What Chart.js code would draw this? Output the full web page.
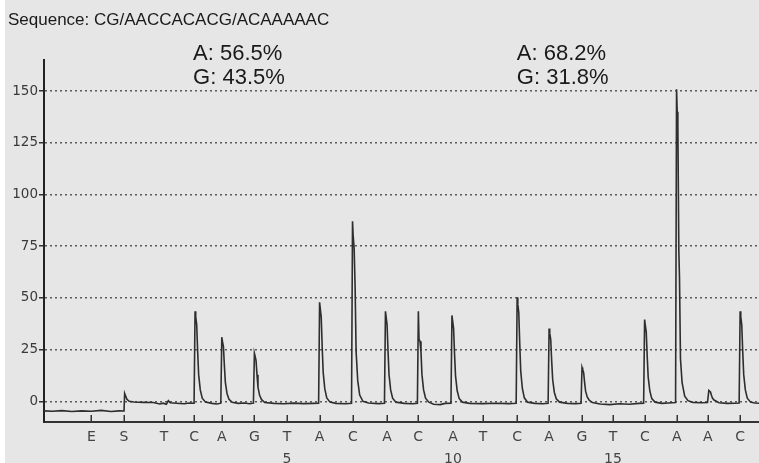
<!DOCTYPE html>
<html>
<head>
<meta charset="utf-8">
<script src="https://cdn.jsdelivr.net/npm/chart.js@4.4.1/dist/chart.umd.min.js"></script>
<style>
  html, body { margin: 0; padding: 0; background: #ffffff; }
  #wrap { position: absolute; left: 5px; top: 0; width: 754px; height: 463px; background: #e6e6e6; }
  canvas { display: block; }
</style>
</head>
<body>
<div id="wrap"><canvas id="c" width="754" height="463"></canvas></div>
<script>
// ---- data ----
const sequenceTitle = "Sequence: CG/AACCACACG/ACAAAAAC";
const tickPositions = [-1.0, 0.0, 1.23, 2.15, 3.0, 4.0, 5.0, 6.0, 7.02, 8.07, 9.02, 10.09, 11.01, 12.06, 13.04, 14.05, 15.0, 15.98, 16.96, 17.91, 18.9];
const tickLetters   = ["E", "S", "T", "C", "A", "G", "T", "A", "C", "A", "C", "A", "T", "C", "A", "G", "T", "C", "A", "A", "C"];
const tickNumbers   = ["", "", "", "", "", "", "5", "", "", "", "", "10", "", "", "", "", "15", "", "", "", ""];
const yTicks = [0, 25, 50, 75, 100, 125, 150];
const annotationX = [2.12, 12.05];
const annotationLines = [["A: 56.5%", "G: 43.5%"], ["A: 68.2%", "G: 31.8%"]];
const trace = [
  [-2.454,-4.6],[-2.2,-4.8],[-1.9,-4.5],[-1.6,-4.9],[-1.3,-4.6],[-1.0,-4.8],[-0.7,-4.4],[-0.4,-4.9],[-0.15,-4.6],[0.0,-4.7],
  [0.02,3.8],[0.05,2.6],[0.09,1.0],[0.16,0.0],[0.3,-0.3],[0.6,-0.5],[0.9,-0.6],[1.1,-1.3],[1.2,-0.9],[1.3,-1.4],[1.36,0.3],[1.42,-0.7],[1.6,-0.9],[1.85,-1.2],[2.0,-0.8],[2.15,-0.9],
  [2.18,43.5],[2.2,41.0],[2.23,37.0],[2.26,23.9],[2.29,12.9],[2.34,5.5],[2.4,1.5],[2.5,-0.4],[2.7,-1.0],[2.85,-1.3],[2.97,-0.9],
  [3.0,31.0],[3.02,29.0],[3.05,26.4],[3.08,17.1],[3.11,9.0],[3.16,3.8],[3.22,1.0],[3.32,-0.5],[3.5,-1.0],[3.7,-0.8],[3.85,-1.2],[3.97,-0.9],
  [4.0,23.3],[4.02,22.0],[4.05,19.8],[4.08,12.8],[4.11,6.8],[4.16,2.9],[4.22,0.8],[4.32,-0.6],[4.6,-1.0],[4.9,-1.2],[5.2,-0.9],[5.5,-1.1],[5.8,-1.0],[5.97,-0.9],
  [6.0,47.9],[6.02,45.0],[6.05,40.7],[6.08,26.3],[6.11,14.0],[6.16,6.0],[6.22,1.6],[6.32,-0.4],[6.5,-1.0],[6.8,-1.2],[6.98,-0.9],
  [7.01,87.0],[7.03,80.0],[7.06,74.0],[7.09,55.0],[7.12,24.0],[7.17,10.0],[7.23,3.0],[7.33,0.0],[7.5,-0.8],[7.8,-1.1],[7.99,-0.9],
  [8.02,43.5],[8.04,41.0],[8.07,37.0],[8.1,23.9],[8.13,12.9],[8.18,5.5],[8.24,1.5],[8.34,-0.4],[8.6,-1.0],[8.85,-1.2],[9.0,-0.9],
  [9.03,43.5],[9.05,30.0],[9.08,29.0],[9.11,23.9],[9.14,12.9],[9.19,5.5],[9.25,1.5],[9.35,-0.4],[9.5,-1.4],[9.7,-1.6],[9.85,-1.0],[10.03,-0.9],
  [10.06,41.5],[10.08,39.0],[10.11,35.3],[10.14,22.8],[10.17,12.3],[10.22,5.2],[10.28,1.4],[10.38,-0.4],[10.6,-1.0],[11.0,-1.1],[11.4,-0.9],[11.8,-1.1],[12.03,-0.9],
  [12.06,50.3],[12.08,47.0],[12.11,42.8],[12.14,27.7],[12.17,14.6],[12.22,6.2],[12.28,1.7],[12.38,-0.4],[12.6,-1.0],[12.85,-1.2],[13.01,-0.9],
  [13.04,35.2],[13.06,33.0],[13.09,29.9],[13.12,19.4],[13.15,10.4],[13.2,4.4],[13.26,1.2],[13.36,-0.4],[13.6,-1.0],[13.85,-1.1],[14.02,-0.9],
  [14.05,16.4],[14.07,15.4],[14.1,13.9],[14.13,9.0],[14.16,4.9],[14.21,2.1],[14.27,0.5],[14.37,-0.6],[14.6,-1.3],[14.9,-1.6],[15.2,-1.2],[15.5,-1.4],[15.8,-1.0],[15.94,-0.9],
  [15.97,39.5],[15.99,37.0],[16.02,33.6],[16.05,21.7],[16.08,11.7],[16.13,5.0],[16.19,1.3],[16.29,-0.4],[16.5,-1.0],[16.7,-0.8],[16.92,-0.6],
  [16.95,150.8],[16.97,140.0],[16.99,133.0],[17.02,72.5],[17.04,60.0],[17.07,20.6],[17.12,9.0],[17.2,2.5],[17.3,0.3],[17.45,-0.5],[17.7,-0.7],[17.9,-0.6],
  [17.94,5.3],[17.96,5.0],[17.99,4.5],[18.02,2.9],[18.05,1.6],[18.1,0.6],[18.25,-0.7],[18.5,-1.0],[18.75,-0.9],[18.87,-0.8],
  [18.9,43.5],[18.92,41.0],[18.95,37.0],[18.98,23.9],[19.01,12.9],[19.06,5.5],[19.12,1.5],[19.22,-0.4],[19.35,-0.8],[19.479,-0.9]
];
const xRange = [-2.454, 19.479];
const yRange = [-10, 165];

// ---- chart ----
const textPlugin = {
  id: 'texts',
  afterDraw(chart) {
    const ctx = chart.ctx;
    const xs = chart.scales.x;
    const area = chart.chartArea;
    ctx.save();
    // upward tick marks on x axis
    ctx.strokeStyle = '#333333';
    ctx.lineWidth = 1.5;
    xs.ticks.forEach(t => {
      const px = Math.round(xs.getPixelForValue(t.value)) + 0.25;
      ctx.beginPath();
      ctx.moveTo(px, area.bottom);
      ctx.lineTo(px, area.bottom - 7);
      ctx.stroke();
    });
    // title
    ctx.fillStyle = '#1a1a1a';
    ctx.textBaseline = 'middle';
    ctx.textAlign = 'left';
    ctx.font = '17px "Liberation Sans", Arial, sans-serif';
    ctx.fillText(sequenceTitle, 3, 20);
    // annotations
    ctx.font = '22px "Liberation Sans", Arial, sans-serif';
    annotationX.forEach((xv, i) => {
      const px = xs.getPixelForValue(xv);
      annotationLines[i].forEach((line, j) => {
        ctx.fillText(line, px, area.top - 6 + j * 24);
      });
    });
    ctx.restore();
  }
};

new Chart(document.getElementById('c'), {
  type: 'line',
  data: {
    datasets: [{
      data: trace.map(p => ({ x: p[0], y: p[1] })),
      borderColor: '#2e2e2e',
      borderWidth: 1.6,
      pointRadius: 0,
      tension: 0,
      fill: false
    }]
  },
  options: {
    responsive: false,
    animation: false,
    devicePixelRatio: 1,
    layout: { padding: { top: 60, right: 0, left: 0, bottom: 0 } },
    plugins: { legend: { display: false }, tooltip: { enabled: false }, title: { display: false } },
    scales: {
      x: {
        type: 'linear',
        min: xRange[0], max: xRange[1],
        afterBuildTicks: s => { s.ticks = tickPositions.map(v => ({ value: v })); },
        afterFit: s => { s.height = 41; },
        grid: { display: false, drawTicks: false },
        border: { display: true, color: '#333333', width: 2 },
        ticks: {
          autoSkip: false, maxRotation: 0, padding: 5,
          color: '#444444',
          font: { family: '"DejaVu Sans", Verdana, sans-serif', size: 14, lineHeight: 1.55 },
          callback: (v, i) => [tickLetters[i], tickNumbers[i]]
        }
      },
      y: {
        type: 'linear',
        min: yRange[0], max: yRange[1],
        afterBuildTicks: s => { s.ticks = yTicks.map(v => ({ value: v })); },
        afterFit: s => { s.width = 39; },
        grid: { color: '#5a5a5a', lineWidth: 1.5, tickLength: 5, tickColor: '#333333', tickWidth: 1.5, tickBorderDash: [] },
        border: { display: true, color: '#222222', width: 2, dash: [2, 3] },
        ticks: {
          padding: 1,
          color: '#3a3a3a',
          font: { family: '"DejaVu Sans", Verdana, sans-serif', size: 13.5 },
          callback: v => String(v)
        }
      }
    }
  },
  plugins: [textPlugin]
});
</script>
</body>
</html>
